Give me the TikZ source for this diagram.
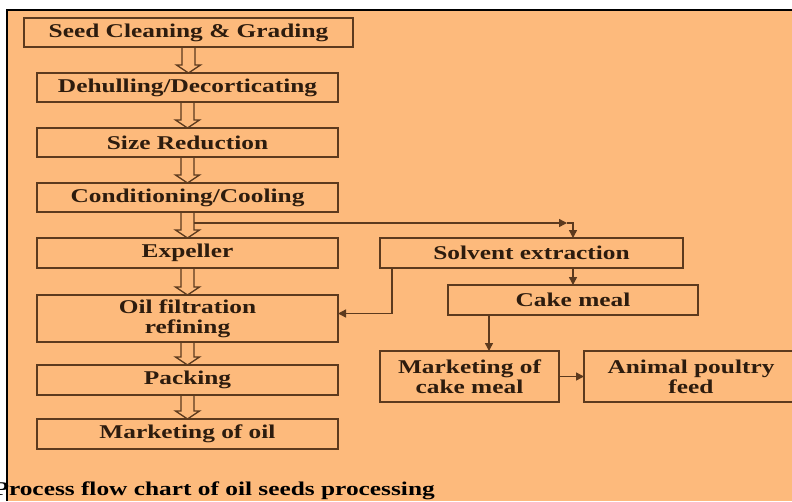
\documentclass[tikz,border=0pt]{standalone}
\usepackage{fontspec}
\newfontfamily\flowfont{Liberation Serif}[FakeStretch=1.3]
\usetikzlibrary{positioning,arrows.meta}
\definecolor{bgorange}{RGB}{253,186,124}
\definecolor{boxbrown}{RGB}{92,58,30}
\definecolor{textbrown}{RGB}{45,28,14}
\tikzset{
  every node/.style={text=textbrown, font=\flowfont\bfseries\fontsize{19.5}{20}\selectfont},
  stage/.style={draw=boxbrown, line width=1.6pt, minimum width=301pt, minimum height=29pt, inner sep=0pt, outer sep=0pt, align=center},
  flow/.style={draw=boxbrown, line width=1.4pt, -{Triangle[length=8pt, width=8pt]}},
  hollow/.style={draw=boxbrown, line width=1.3pt, line join=miter}
}
\newcommand{\hollowarrow}[2]{%
  \draw[hollow] let \p1=(#1.south), \p2=(#2.north) in
    (\x1-6.5pt,\y1) -- (\x1-6.5pt,\y2+8pt) -- (\x1-12pt,\y2+8pt) -- (\x1,\y2)
    -- (\x1+12pt,\y2+8pt) -- (\x1+6.5pt,\y2+8pt) -- (\x1+6.5pt,\y1);}
\usetikzlibrary{calc}

\begin{document}
\begin{tikzpicture}[x=1pt, y=1pt]
  \clip (0,0) rectangle (792,-501);
  % sheet
  \fill[white] (0,0) rectangle (792,-501);
  \fill[bgorange] (7,-10) rectangle (792,-501);
  \draw[black, line width=1.5pt] (7,-501) -- (7,-10) -- (792,-10);

  % Nodes
  \node[stage, minimum width=329pt] (seed) at (188.5,-32.5) {Seed Cleaning \& Grading};
  \node[stage, below=26pt of seed, xshift=-1pt] (dehull) {Dehulling/Decorticating};
  \node[stage, below=26pt of dehull] (sizered) {Size Reduction};
  \node[stage, below=26pt of sizered] (cond) {Conditioning/Cooling};
  \node[stage, minimum height=30pt, below=26pt of cond] (expeller) {Expeller};
  \node[stage, minimum height=47pt, below=27pt of expeller] (filter) {Oil filtration\\refining};
  \node[stage, minimum height=30pt, below=23pt of filter] (packing) {Packing};
  \node[stage, minimum height=30pt, below=24pt of packing] (oilmarket) {Marketing of oil};

  \node[stage, minimum width=303pt, minimum height=30pt, right=42pt of expeller] (solvent) {Solvent extraction};
  \node[stage, minimum width=250pt, minimum height=30pt, below=17pt of solvent, xshift=41.5pt] (cake) {Cake meal};
  \node[stage, minimum width=179pt, minimum height=51pt, below=83pt of solvent.south west, anchor=north west] (cakemarket) {Marketing of\\cake meal};
  \node[stage, minimum width=214pt, minimum height=51pt, right=25pt of cakemarket] (feed) {Animal poultry\\feed};

  \node[anchor=base west, text=black] (caption) at (-10,-495) {Process flow chart of oil seeds processing};

  % hollow arrows
  \hollowarrow{seed}{dehull}
  \hollowarrow{dehull}{sizered}
  \hollowarrow{sizered}{cond}
  \hollowarrow{cond}{expeller}
  \hollowarrow{expeller}{filter}
  \hollowarrow{filter}{packing}
  \hollowarrow{packing}{oilmarket}

  % branch to solvent extraction
  \coordinate (fork) at ([xshift=6.5pt, yshift=-11pt]cond.south);
  \coordinate (turn) at (fork -| cake.north);
  \coordinate (drop) at ([xshift=41pt]cake.south west);
  \draw[flow] (fork) -- ([xshift=-6pt]turn);
  \draw[flow] ([xshift=-6pt]turn) -- (turn) -- (turn |- solvent.north);
  \draw[flow] (solvent.south -| cake.north) -- (cake.north);
  \draw[flow] ([xshift=12pt]solvent.south west) |- ([yshift=5pt]filter.east);
  \draw[flow] (drop) -- (drop |- cakemarket.north);
  \draw[flow] (cakemarket) -- (feed);
\end{tikzpicture}
\end{document}
